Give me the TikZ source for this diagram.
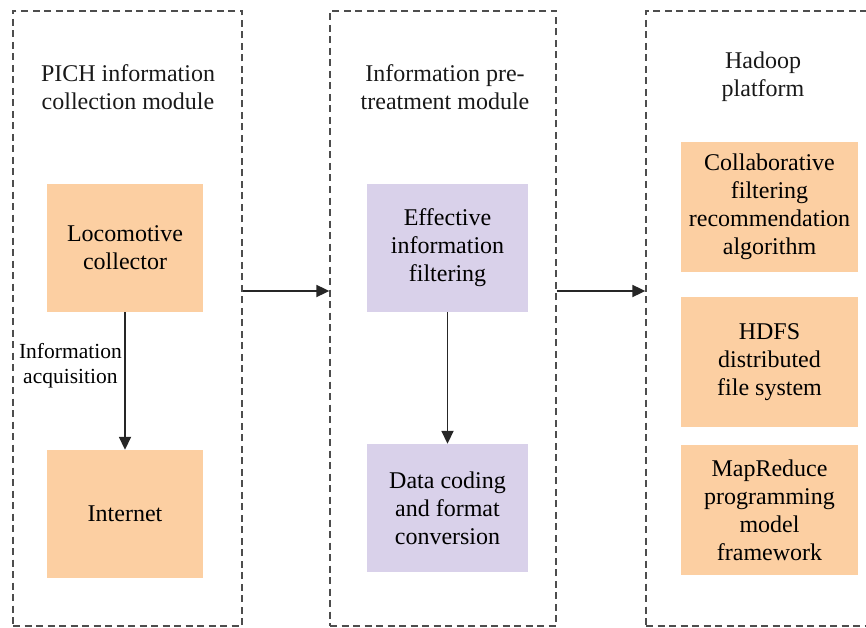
\documentclass[tikz,border=0pt]{standalone}
\usepackage{fontspec}
\setmainfont{Liberation Serif}
\usepackage{xcolor}
\usetikzlibrary{arrows.meta,positioning,calc}
\definecolor{boxorange}{HTML}{FCCFA2}
\definecolor{boxlilac}{HTML}{D9D1EA}
\definecolor{dashgray}{HTML}{4D4D4D}

\begin{document}
\begin{tikzpicture}[x=1pt, y=-1pt,
  font=\fontsize{24}{28}\selectfont,
  module/.style={draw=dashgray, line width=1.3pt, dash pattern=on 7pt off 4.5pt,
                 minimum height=615pt, inner sep=0pt},
  title/.style={align=center, text=black!90},
  unit/.style={fill=boxorange, align=center, inner sep=2pt,
               minimum width=156pt, minimum height=128pt},
  prep/.style={unit, fill=boxlilac, minimum width=161pt},
  hd/.style={unit, minimum width=177pt, minimum height=130pt},
  a/.style={-{Triangle[length=13pt, width=12pt]}, line width=1.8pt, draw=black!85}]
\useasboundingbox (0,0) rectangle (866,628);
\clip (0,0) rectangle (866,628);
% dashed modules
\node[module, minimum width=229pt] (collect) at (127.5,318.5) {};
\node[module, minimum width=226pt] (pretreat) at (443,318.5) {};
\node[module, minimum width=240pt] (hadoop) at (766,318.5) {};
% module titles
\node[title] (t1) at (128,87) {PICH information\\collection module};
\node[title] (t2) at (445,87) {Information pre-\\treatment module};
\node[title] (t3) at (763,77) {Hadoop\\platform};
% collection
\node[unit] (loco) at (125,248) {Locomotive\\collector};
\node[unit] (net) at (125,514) {Internet};
% pre-treatment
\node[prep] (filt) at (447.5,248) {Effective\\information\\filtering};
\node[prep] (code) at (447.5,508) {Data coding\\and format\\conversion};
% hadoop
\node[hd] (cf) at (769.5,207) {Collaborative\\filtering\\recommendation\\algorithm};
\node[hd] (hdfs) at (769.5,362) {HDFS\\distributed\\file system};
\node[hd] (mr) at (769.5,510) {MapReduce\\programming\\model\\framework};
% connectors
\draw[a] (loco) -- (net)
  node[pos=0.39, left=-1pt, align=center, font=\fontsize{21.5}{25}\selectfont]
  {Information\\acquisition};
\draw[a] (filt) -- (code);
\draw[a] ([yshift=27.5pt]collect.east) -- ([yshift=27.5pt]pretreat.west);
\draw[a] ([yshift=27.5pt]pretreat.east) -- ([yshift=27.5pt]hadoop.west);
\end{tikzpicture}
\end{document}
